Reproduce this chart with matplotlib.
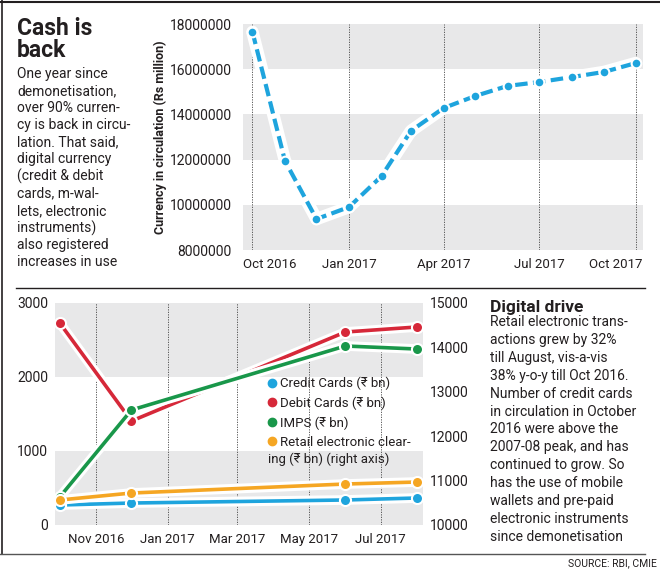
import matplotlib
matplotlib.use("Agg")
import matplotlib.pyplot as plt
from matplotlib.lines import Line2D
from matplotlib.transforms import ScaledTranslation
import pandas as pd

plt.rcParams['font.family'] = ['Roboto', 'DejaVu Sans']

# --- data -------------------------------------------------------------
cic_months = pd.date_range("2016-10-01", "2017-10-01", freq="MS")
cic_values = [17650000, 11940000, 9370000, 9900000, 11270000, 13270000, 14280000,
              14810000, 15260000, 15430000, 15650000, 15880000, 16270000]

dig_months = pd.to_datetime(["2016-10-01", "2016-12-01", "2017-06-01", "2017-08-01"])
credit = [270, 297, 338, 365]
debit = [2730, 1405, 2608, 2676]
imps = [378, 1554, 2419, 2378]
retail = [10563, 10720, 10923, 10968]

left_text = ["One year since", "demonetisation,", "over 90% curren-", "cy is back in circu-",
             "lation. That said,", "digital currency", "(credit & debit", "cards, m-wal-",
             "lets, electronic", "instruments)", "also registered", "increases in use"]
right_text = ["Retail electronic trans-", "actions grew by 32%", "till August, vis-a-vis",
              "38% y-o-y till Oct 2016.", "Number of credit cards", "in circulation in October",
              "2016 were above the", "2007-08 peak, and has", "continued to grow. So",
              "has the use of mobile", "wallets and pre-paid", "electronic instruments",
              "since demonetisation"]

INK = "#231f20"
BAND = "#e8e8e9"
BLUE = "#1ea4dd"
RED = "#d62839"
GREEN = "#19974a"
ORANGE = "#f5a623"

W, H = 660, 572
fig = plt.figure(figsize=(W / 100, H / 100), dpi=100)


def box(l, t, r, b):
    return [l / W, 1 - b / H, (r - l) / W, (b - t) / H]


def fy(py):
    return 1 - py / H


def nudge(lbl, px):
    lbl.set_transform(lbl.get_transform() + ScaledTranslation(px / 100, 0, fig.dpi_scale_trans))


# --- top chart --------------------------------------------------------
ax = fig.add_axes(box(243, 24, 643, 250))
for lo in (8e6, 12e6, 16e6):
    ax.axhspan(lo, lo + 2e6, color=BAND, zorder=0, lw=0)
ax.set_ylim(8e6, 18e6)
ax.set_xlim(pd.Timestamp("2016-09-22"), pd.Timestamp("2017-10-08"))
ax.set_yticks(range(8000000, 18000001, 2000000))
ax.set_yticklabels([str(v) for v in range(8000000, 18000001, 2000000)])
ticks = pd.to_datetime(["2016-10-01", "2017-01-01", "2017-04-01", "2017-07-01", "2017-10-01"])
ax.set_xticks(ticks)
ax.set_xticklabels(["Oct 2016", "Jan 2017", "Apr 2017", "Jul 2017", "Oct 2017"])
ax.grid(axis='x', color='#444444', lw=0.6, ls=(0, (1.5, 1.5)), zorder=1)
ax.plot(cic_months, cic_values, color='white', lw=9, solid_capstyle='round',
        solid_joinstyle='round', zorder=2)
ax.plot(cic_months, cic_values, color=BLUE, lw=3, ls=(0, (3, 1.3)), zorder=3,
        marker='o', ms=7, mfc=BLUE, mec='white', mew=1.5)
ax.set_ylabel("Currency in circulation (Rs million)", fontsize=9, fontweight='bold',
              color=INK, labelpad=2)
for s in ax.spines.values():
    s.set_visible(False)
ax.tick_params(length=0, labelsize=10, labelcolor=INK, pad=8)
ax.tick_params(axis='x', labelsize=9.5, pad=6)
xl = ax.get_xticklabels()
xl[0].set_ha('left')
nudge(xl[0], -9)
xl[-1].set_ha('right')
nudge(xl[-1], 7)

# --- bottom chart -----------------------------------------------------
bx = fig.add_axes(box(55, 303, 423, 525))
for lo in (0, 2000):
    bx.axhspan(lo, lo + 1000, color=BAND, zorder=0, lw=0)
bx.set_ylim(0, 3000)
bx.set_yticks([0, 1000, 2000, 3000])
bx.set_xlim(pd.Timestamp("2016-09-27"), pd.Timestamp("2017-08-06"))
bticks = pd.to_datetime(["2016-11-01", "2017-01-01", "2017-03-01", "2017-05-01", "2017-07-01"])
bx.set_xticks(bticks)
bx.set_xticklabels(["Nov 2016", "Jan 2017", "Mar 2017", "May 2017", "Jul 2017"])
bx.grid(axis='x', color='#444444', lw=0.6, ls=(0, (1.5, 1.5)), zorder=1)

bx2 = bx.twinx()
bx2.set_ylim(10000, 15000)
bx2.set_yticks(range(10000, 15001, 1000))


def series(a, y, c, z):
    a.plot(dig_months, y, color='white', lw=7, solid_capstyle='round',
           solid_joinstyle='round', zorder=z)
    a.plot(dig_months, y, color=c, lw=2.6, zorder=z + 0.5, marker='o', ms=8,
           mfc=c, mec='white', mew=1.5)


series(bx, credit, BLUE, 2)
series(bx, debit, RED, 3)
series(bx, imps, GREEN, 4)
series(bx2, retail, ORANGE, 2)

for a in (bx, bx2):
    for s in a.spines.values():
        s.set_visible(False)
    a.tick_params(length=0, labelsize=10, labelcolor=INK, pad=5)
bx.tick_params(axis='x', labelsize=9.5, pad=6)

handles = [Line2D([], [], ls='none', marker='o', ms=6, color=c) for c in (BLUE, RED, GREEN, ORANGE)]
labels = ["Credit Cards (₹ bn)", "Debit Cards (₹ bn)", "IMPS (₹ bn)", "Retail electronic clear-"]
fig.legend(handles, labels, loc='upper left', bbox_to_anchor=(268 / W, fy(377)),
           frameon=False, fontsize=9.5, handlelength=0.6, handletextpad=0.3,
           labelspacing=0.47, borderpad=0, borderaxespad=0, labelcolor=INK)
fig.text(268 / W, fy(459), "ing (₹ bn) (right axis)", fontsize=9.5, color=INK, va='center')

# --- text -------------------------------------------------------------
fig.text(17 / W, fy(35), "Cash is", fontsize=16.5, fontweight='bold', color=INK, va='baseline')
fig.text(17 / W, fy(57), "back", fontsize=16.5, fontweight='bold', color=INK, va='baseline')
for i, line in enumerate(left_text):
    fig.text(17 / W, fy(74 + i * 17.1), line, fontsize=10, color=INK, va='center')

fig.text(490 / W, fy(312), "Digital drive", fontsize=12.5, fontweight='bold', color=INK, va='baseline')
for i, line in enumerate(right_text):
    fig.text(490 / W, fy(322 + i * 17.9), line, fontsize=10, color=INK, va='center')

fig.text(657 / W, fy(563), "SOURCE: RBI, CMIE", fontsize=7.5, color=INK,
         ha='right', va='center')

# --- rules ------------------------------------------------------------
fig.add_artist(Line2D([0, 1], [fy(1.5), fy(1.5)], color=INK, lw=1.5))
fig.add_artist(Line2D([2 / W, 2 / W], [fy(0), fy(554)], color=INK, lw=1.2))
fig.add_artist(Line2D([16 / W, 645 / W], [fy(288), fy(288)], color=INK, lw=1))
fig.add_artist(Line2D([0, 645 / W], [fy(554), fy(554)], color='#555555', lw=1))

fig.savefig("out.png", dpi=100)
